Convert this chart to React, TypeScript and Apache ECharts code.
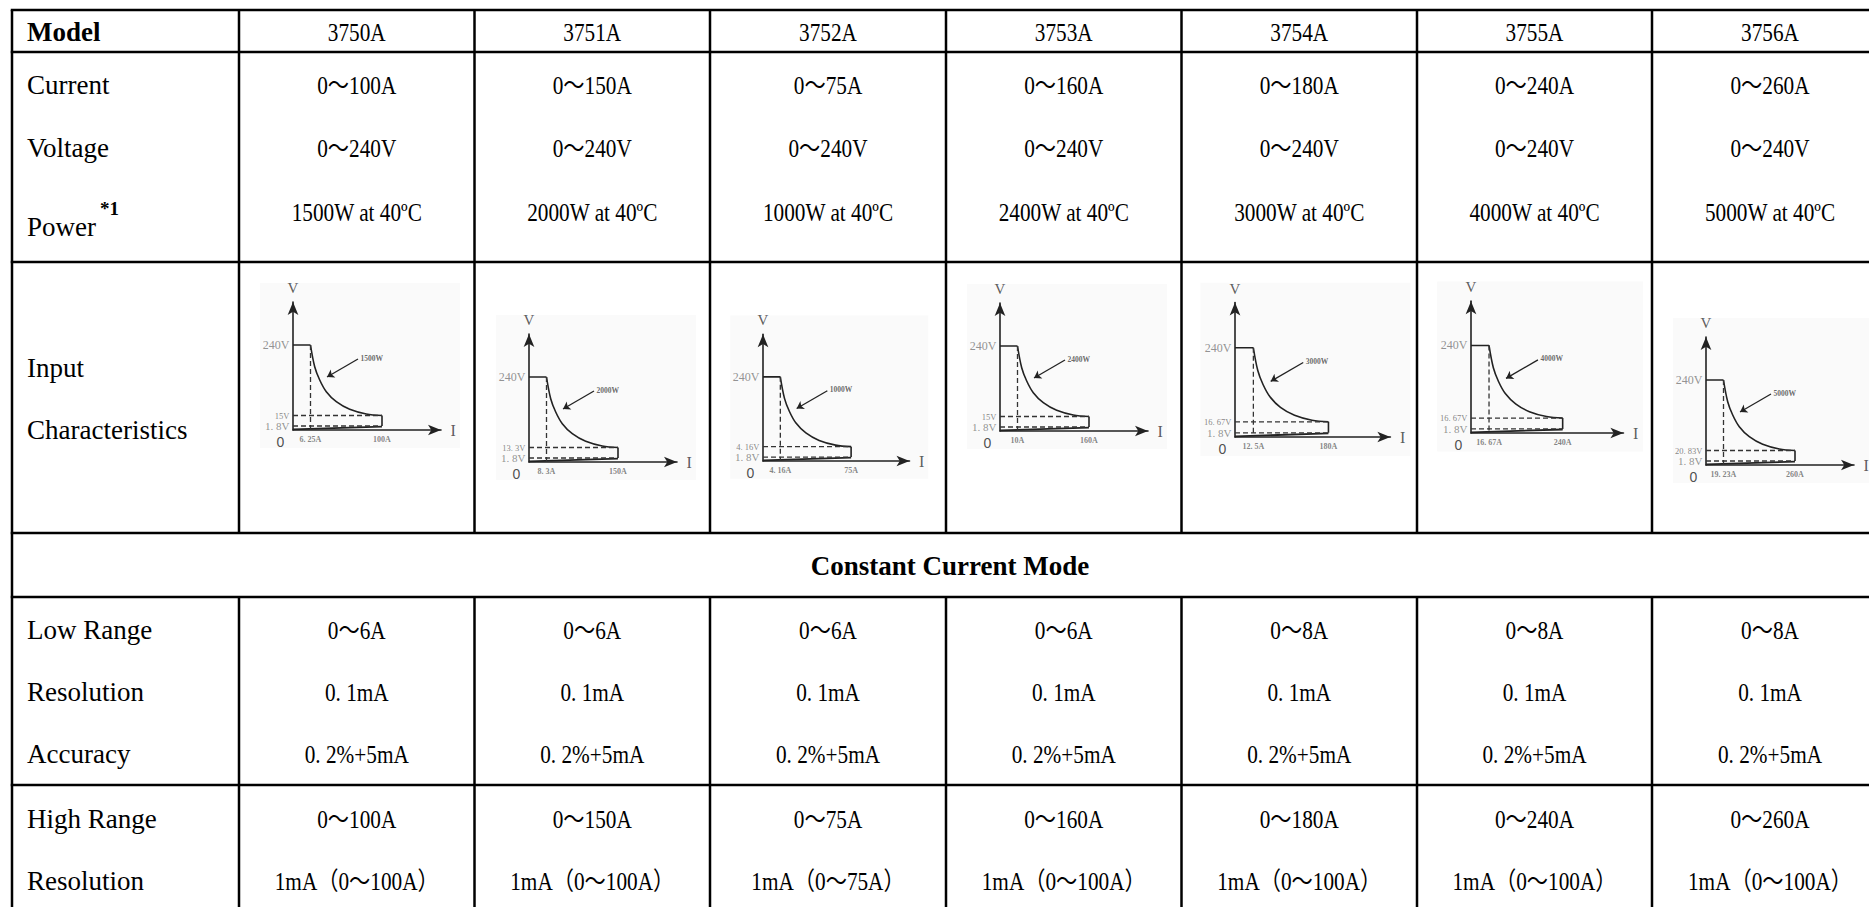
import React, { useEffect, useRef } from 'react';
import * as echarts from 'echarts';

// ---------------- Table data ----------------
const MODELS = ['3750A', '3751A', '3752A', '3753A', '3754A', '3755A', '3756A'];
const CURRENT_RANGE = ['0～100A', '0～150A', '0～75A', '0～160A', '0～180A', '0～240A', '0～260A'];
const VOLTAGE_RANGE = ['0～240V', '0～240V', '0～240V', '0～240V', '0～240V', '0～240V', '0～240V'];
const POWER_RATING = [
  '1500W at 40ºC', '2000W at 40ºC', '1000W at 40ºC', '2400W at 40ºC',
  '3000W at 40ºC', '4000W at 40ºC', '5000W at 40ºC',
];
const LOW_RANGE = ['0～6A', '0～6A', '0～6A', '0～6A', '0～8A', '0～8A', '0～8A'];
const LOW_RESOLUTION = ['0. 1mA', '0. 1mA', '0. 1mA', '0. 1mA', '0. 1mA', '0. 1mA', '0. 1mA'];
const LOW_ACCURACY = ['0. 2%+5mA', '0. 2%+5mA', '0. 2%+5mA', '0. 2%+5mA', '0. 2%+5mA', '0. 2%+5mA', '0. 2%+5mA'];
const HIGH_RANGE = ['0～100A', '0～150A', '0～75A', '0～160A', '0～180A', '0～240A', '0～260A'];
const HIGH_RESOLUTION = [
  '1mA（0～100A）', '1mA（0～100A）', '1mA（0～75A）', '1mA（0～100A）',
  '1mA（0～100A）', '1mA（0～100A）', '1mA（0～100A）',
];
const ROW_LABELS = {
  model: 'Model', current: 'Current', voltage: 'Voltage', power: 'Power', powerNote: '*1',
  input1: 'Input', input2: 'Characteristics', section: 'Constant Current Mode',
  low: 'Low Range', lowRes: 'Resolution', lowAcc: 'Accuracy', high: 'High Range', highRes: 'Resolution',
};

// ---------------- Input-characteristics mini charts ----------------
const IC_V_MAX = '240V';
const IC_V_MIN = '1. 8V';
const IC_V_KNEE = ['15V', '13. 3V', '4. 16V', '15V', '16. 67V', '16. 67V', '20. 83V'];
const IC_I_KNEE = ['6. 25A', '8. 3A', '4. 16A', '10A', '12. 5A', '16. 67A', '19. 23A'];
const IC_I_MAX = ['100A', '150A', '75A', '160A', '180A', '240A', '260A'];
const IC_POWER = ['1500W', '2000W', '1000W', '2400W', '3000W', '4000W', '5000W'];
// schematic constant-power curve (drawing units)
const CURVE_X = [17.5, 21.7, 26.7, 33.3, 43.3, 56.7, 73.3, 89];
const CURVE_Y = [85, 63.3, 50, 38.3, 28.3, 20.7, 16, 14.5];

// ---------------- layout (not data) ----------------
const COL_X = [12, 239, 474.5, 710, 946, 1181.5, 1417, 1652, 1888];
const ROW_LINES = [10, 52, 262, 533, 597, 785];
const SCH = { W: 148, H: 128, xKnee: 17.5, xMax: 89, y240: 85, yKnee: 14.5, yMin: 4 };
const IC_ORIGIN = [[293, 430], [529, 462], [763, 461], [1000, 431], [1235, 437], [1471, 433], [1706, 465]];
const IC_SCALE = [1, 1, 0.99, 1, 1.05, 1.03, 1];

const LABEL_FONT = "'Liberation Serif', 'Times New Roman', serif";
const VALUE_FONT = "'Liberation Serif', 'Noto Sans CJK SC', serif";
const SMALL_FONT = "'Liberation Serif', serif";

function txt(x: number, y: number, text: string, o: any = {}) {
  return {
    type: 'text',
    x,
    y,
    scaleX: o.scaleX ?? 1,
    silent: true,
    z: 10,
    style: {
      text,
      fill: o.color ?? '#000',
      fontSize: o.fontSize ?? 27,
      fontFamily: o.fontFamily ?? LABEL_FONT,
      fontWeight: o.fontWeight ?? 'normal',
      textAlign: o.align ?? 'left',
      textVerticalAlign: 'middle',
      align: o.align ?? 'left',
      verticalAlign: 'middle',
    },
  };
}

function buildOption() {
  const graphic: any[] = [];

  // mini chart backgrounds
  IC_ORIGIN.forEach(([ox, oy], i) => {
    const s = IC_SCALE[i];
    graphic.push({
      type: 'rect',
      silent: true,
      z: 0,
      shape: { x: ox - 33 * s, y: oy - 147 * s, width: 200 * s, height: 165 * s },
      style: { fill: '#fafafa' },
    });
  });

  // table lines
  const lw = 2.5;
  ROW_LINES.forEach((y) => {
    graphic.push({ type: 'line', silent: true, z: 5, shape: { x1: COL_X[0] - 1.25, y1: y, x2: 1900, y2: y }, style: { stroke: '#000', lineWidth: lw } });
  });
  graphic.push({ type: 'line', silent: true, z: 5, shape: { x1: COL_X[0], y1: ROW_LINES[0], x2: COL_X[0], y2: 920 }, style: { stroke: '#000', lineWidth: lw } });
  for (let j = 1; j < COL_X.length; j++) {
    graphic.push({ type: 'line', silent: true, z: 5, shape: { x1: COL_X[j], y1: ROW_LINES[0], x2: COL_X[j], y2: ROW_LINES[3] }, style: { stroke: '#000', lineWidth: lw } });
    graphic.push({ type: 'line', silent: true, z: 5, shape: { x1: COL_X[j], y1: ROW_LINES[4], x2: COL_X[j], y2: 920 }, style: { stroke: '#000', lineWidth: lw } });
  }

  // first column labels
  const lx = 27;
  graphic.push(txt(lx, 32, ROW_LABELS.model, { fontWeight: 'bold' }));
  graphic.push(txt(lx, 85, ROW_LABELS.current));
  graphic.push(txt(lx, 148, ROW_LABELS.voltage));
  graphic.push(txt(lx, 227, ROW_LABELS.power));
  graphic.push(txt(100, 208, ROW_LABELS.powerNote, { fontWeight: 'bold', fontSize: 19 }));
  graphic.push(txt(lx, 368, ROW_LABELS.input1));
  graphic.push(txt(lx, 430, ROW_LABELS.input2));
  graphic.push(txt((COL_X[0] + COL_X[8]) / 2, 566, ROW_LABELS.section, { fontWeight: 'bold', align: 'center' }));
  graphic.push(txt(lx, 630, ROW_LABELS.low));
  graphic.push(txt(lx, 692, ROW_LABELS.lowRes));
  graphic.push(txt(lx, 754, ROW_LABELS.lowAcc));
  graphic.push(txt(lx, 819, ROW_LABELS.high));
  graphic.push(txt(lx, 881, ROW_LABELS.highRes));

  // value rows
  const valueRows: [string[], number][] = [
    [MODELS, 32], [CURRENT_RANGE, 85], [VOLTAGE_RANGE, 148], [POWER_RATING, 212],
    [LOW_RANGE, 630], [LOW_RESOLUTION, 692], [LOW_ACCURACY, 754], [HIGH_RANGE, 819], [HIGH_RESOLUTION, 881],
  ];
  valueRows.forEach(([vals, y]) => {
    vals.forEach((v, j) => {
      const cx = (COL_X[j + 1] + COL_X[j + 2]) / 2;
      graphic.push(txt(cx, y, v, { fontFamily: VALUE_FONT, fontSize: 25, scaleX: 0.85, align: 'center' }));
    });
  });

  // mini charts
  const grid: any[] = [];
  const xAxis: any[] = [];
  const yAxis: any[] = [];
  const series: any[] = [];
  const solid = { color: '#222', width: 1.6 };
  const dashed = { color: '#333', width: 1.3, type: [5, 3] };

  IC_ORIGIN.forEach(([ox, oy], i) => {
    const s = IC_SCALE[i];
    grid.push({ left: ox, top: oy - SCH.H * s, width: SCH.W * s, height: SCH.H * s, show: false });
    const axisCommon = {
      gridIndex: i,
      type: 'value',
      min: 0,
      axisTick: { show: false },
      axisLabel: { show: false },
      splitLine: { show: false },
      axisLine: { show: true, onZero: false, symbol: ['none', 'arrow'], symbolSize: [8, 13], lineStyle: { color: '#222', width: 1.6 } },
    };
    xAxis.push({ ...axisCommon, max: SCH.W });
    yAxis.push({ ...axisCommon, max: SCH.H });
    const ax = { xAxisIndex: i, yAxisIndex: i, symbol: 'none', silent: true, z: 3 };
    const seg = (data: number[][], ls: any, extra: any = {}) =>
      series.push({ type: 'line', ...ax, data, lineStyle: ls, ...extra });

    seg([[0, SCH.y240], [SCH.xKnee, SCH.y240]], solid);
    seg(CURVE_X.map((x, k) => [x, CURVE_Y[k]]), solid, { smooth: 0.35 });
    seg([[SCH.xMax, SCH.yKnee], [SCH.xMax, SCH.yMin]], solid);
    seg([[0, 0.6], [SCH.xMax, SCH.yMin - 0.6]], { color: '#222', width: 1.8 });
    seg([[0, SCH.yKnee], [SCH.xMax, SCH.yKnee]], dashed);
    seg([[0, SCH.yMin], [SCH.xMax, SCH.yMin]], dashed);
    seg([[SCH.xKnee, SCH.y240], [SCH.xKnee, 0]], dashed);

    series.push({
      type: 'lines',
      coordinateSystem: 'cartesian2d',
      xAxisIndex: i,
      yAxisIndex: i,
      silent: true,
      z: 3,
      symbol: ['none', 'arrow'],
      symbolSize: 7,
      lineStyle: { color: '#222', width: 1.3, opacity: 1 },
      data: [{ coords: [[65, 71], [34, 53]] }],
    });

    const lab = (value: number[], text: string, l: any) => ({
      value,
      label: { show: true, formatter: text, fontFamily: SMALL_FONT, color: '#555', ...l },
    });
    series.push({
      type: 'scatter',
      xAxisIndex: i,
      yAxisIndex: i,
      silent: true,
      symbolSize: 1,
      itemStyle: { color: 'rgba(0,0,0,0)' },
      z: 4,
      data: [
        lab([0, SCH.y240], IC_V_MAX, { position: 'left', distance: 3, fontSize: 12, color: '#777' }),
        lab([0, SCH.yKnee], IC_V_KNEE[i], { position: 'left', distance: 3, fontSize: 8.5, color: '#666' }),
        lab([0, SCH.yMin], IC_V_MIN, { position: 'left', distance: 3, fontSize: 11, color: '#777' }),
        lab([0, 0], '0', { position: [-16, 5], fontSize: 14, fontFamily: "'Liberation Sans', sans-serif", color: '#222' }),
        lab([SCH.xKnee, 0], IC_I_KNEE[i], { position: 'bottom', distance: 5, fontSize: 8, fontWeight: 'bold', color: '#666' }),
        lab([SCH.xMax, 0], IC_I_MAX[i], { position: 'bottom', distance: 5, fontSize: 8, fontWeight: 'bold', color: '#666' }),
        lab([0, SCH.H], 'V', { position: 'top', distance: 6, fontSize: 15, color: '#333' }),
        lab([SCH.W, 0], 'I', { position: 'right', distance: 9, fontSize: 16, color: '#333' }),
        lab([66, 72], IC_POWER[i], { position: 'right', distance: 1, fontSize: 7.5, fontWeight: 'bold', color: '#444' }),
      ],
    });
  });

  return {
    animation: false,
    backgroundColor: '#fff',
    grid,
    xAxis,
    yAxis,
    series,
    graphic,
  };
}

export default function App() {
  const ref = useRef<HTMLDivElement>(null);
  useEffect(() => {
    if (!ref.current) return;
    const chart = echarts.init(ref.current, null, { renderer: 'svg' });
    chart.setOption(buildOption() as any);
    return () => chart.dispose();
  }, []);
  return (
    <div
      ref={ref}
      style={{ position: 'absolute', left: 0, top: 0, width: 1869, height: 907, background: '#fff' }}
    />
  );
}
